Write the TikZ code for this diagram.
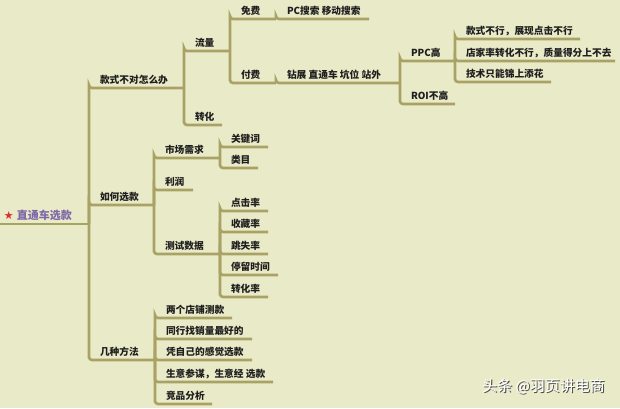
\documentclass[tikz,border=0pt]{standalone}
\usepackage{fontspec}
\setmainfont{Noto Sans CJK SC}
\newfontfamily\symfont{DejaVu Sans}
\definecolor{bgc}{RGB}{233,234,199}
\definecolor{brc}{RGB}{168,163,100}
\definecolor{txc}{RGB}{30,30,30}
\definecolor{rootc}{RGB}{126,104,168}
\definecolor{starc}{RGB}{225,45,45}
\newcommand\mmbox[2]{\makebox[#1pt][l]{\hspace*{11pt}#2}}
\begin{document}
\begin{tikzpicture}[x=1pt,y=-1pt,
  itm/.style={anchor=south west, inner sep=0pt, outer sep=0pt, text height=9.5pt, text depth=4.5pt, font=\fontsize{9.7}{11}\selectfont\bfseries, text=txc},
  br/.style={draw=brc, line width=2.6pt, rounded corners=3pt},
  wmark/.style={anchor=base west, inner sep=0pt, font=\fontsize{15}{17}\selectfont}
]
\useasboundingbox (0,0) rectangle (620,408);
\fill[bgc] (0,0) rectangle (620,408);
% root
\node[itm, font=\fontsize{11}{13}\selectfont\bfseries, text=rootc, text height=10.5pt] (root) at (0,224)
  {\makebox[89pt][l]{\hspace*{4pt}{\color{starc}\symfont\fontsize{11}{13}\selectfont ★}\hspace{3pt}直通车选款}};
% branch 1
\node[itm] (b1) at (89,88) {\mmbox{95}{款式不对怎么办}};
\node[itm] (ll) at (184,51) {\mmbox{46}{流量}};
\node[itm] (mf) at (230,19) {\mmbox{46}{免费}};
\node[itm] (pc) at (276,19) {\mmbox{93}{PC搜索 移动搜索}};
\node[itm] (ff) at (230,83) {\mmbox{46}{付费}};
\node[itm] (zz) at (276,83) {\mmbox{124}{钻展 直通车 坑位 站外}};
\node[itm] (ppc) at (400,61) {\mmbox{55}{PPC高}};
\node[itm] (k1) at (455,39) {\mmbox{125}{款式不行，展现点击不行}};
\node[itm] (k2) at (455,61) {\mmbox{160}{店家率转化不行，质量得分上不去}};
\node[itm] (k3) at (455,82) {\mmbox{96}{技术只能锦上添花}};
\node[itm] (roi) at (400,104) {\mmbox{55}{ROI不高}};
\node[itm] (zh) at (184,125) {\mmbox{38}{转化}};
% branch 2
\node[itm] (b2) at (89,205) {\mmbox{65}{如何选款}};
\node[itm] (sc) at (154,158) {\mmbox{66}{市场需求}};
\node[itm] (gjc) at (220,147) {\mmbox{48}{关键词}};
\node[itm] (lm) at (220,168) {\mmbox{38}{类目}};
\node[itm] (lr) at (154,190) {\mmbox{39}{利润}};
\node[itm] (cs) at (154,254) {\mmbox{66}{测试数据}};
\node[itm] (d1) at (220,211) {\mmbox{48}{点击率}};
\node[itm] (d2) at (220,232) {\mmbox{48}{收藏率}};
\node[itm] (d3) at (220,254) {\mmbox{48}{跳失率}};
\node[itm] (d4) at (220,275) {\mmbox{58}{停留时间}};
\node[itm] (d5) at (220,297) {\mmbox{48}{转化率}};
% branch 3
\node[itm] (b3) at (89,360) {\mmbox{66}{几种方法}};
\node[itm] (m1) at (155,318) {\mmbox{77}{两个店铺测款}};
\node[itm] (m2) at (155,339) {\mmbox{97}{同行找销量最好的}};
\node[itm] (m3) at (155,360) {\mmbox{97}{凭自己的感觉选款}};
\node[itm] (m4) at (155,382) {\mmbox{118}{生意参谋，生意经 选款}};
\node[itm] (m5) at (155,404) {\mmbox{57}{竞品分析}};
% connectors
\draw[br] (root.south west) -- (root.south east);
\foreach \p/\c in {root/b1,root/b2,root/b3,
  b1/ll,b1/zh,ll/mf,ll/ff,mf/pc,ff/zz,zz/ppc,zz/roi,ppc/k1,ppc/k2,ppc/k3,
  b2/sc,b2/lr,b2/cs,sc/gjc,sc/lm,cs/d1,cs/d2,cs/d3,cs/d4,cs/d5,
  b3/m1,b3/m2,b3/m3,b3/m4,b3/m5}
  \draw[br] (\p.south east) |- (\c.south west) -- (\c.south east);
% watermark
\node[wmark, text=black!70] (wms) at (483.2,392.2) {头条 @羽页讲电商};
\node[wmark, text=white] (wm) at (482,391) {头条 @羽页讲电商};
\end{tikzpicture}
\end{document}
